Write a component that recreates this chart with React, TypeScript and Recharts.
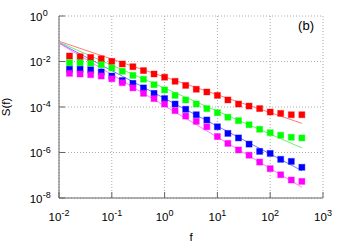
import React from 'react';
import { ScatterChart, Scatter, XAxis, YAxis, CartesianGrid } from 'recharts';

const freqs = [0.0158, 0.0251, 0.0398, 0.0631, 0.1, 0.158, 0.251, 0.398, 0.631, 1, 1.58, 2.51, 3.98, 6.31, 10, 15.8, 25.1, 39.8, 63.1, 100, 158, 251, 398];

const redS = [1.74e-2, 1.62e-2, 1.51e-2, 1.32e-2, 1.02e-2, 7.76e-3, 5.89e-3, 3.98e-3, 2.82e-3, 2.04e-3, 1.35e-3, 8.91e-4, 6.03e-4, 4.57e-4, 3.24e-4, 2.04e-4, 1.35e-4, 1.1e-4, 8.51e-5, 6.03e-5, 5.25e-5, 4.57e-5, 4.57e-5];
const greenS = [8.91e-3, 8.91e-3, 8.32e-3, 7.24e-3, 5.13e-3, 3.72e-3, 2.45e-3, 1.66e-3, 9.55e-4, 5.62e-4, 3.24e-4, 2.04e-4, 1.35e-4, 8.51e-5, 5.62e-5, 3.55e-5, 2.51e-5, 1.66e-5, 1.05e-5, 7.41e-6, 5.75e-6, 4.68e-6, 4.37e-6];
const blueS = [4.57e-3, 4.57e-3, 4.27e-3, 3.47e-3, 2.29e-3, 1.45e-3, 1.1e-3, 6.92e-4, 3.98e-4, 2.34e-4, 1.35e-4, 7.94e-5, 4.57e-5, 2.69e-5, 1.35e-5, 6.92e-6, 4.37e-6, 2.34e-6, 1.12e-6, 9.12e-7, 5.01e-7, 4.07e-7, 2.24e-7];
const magentaS = [3.02e-3, 2.82e-3, 2.63e-3, 2.29e-3, 1.74e-3, 1.17e-3, 6.92e-4, 3.98e-4, 2.34e-4, 1.35e-4, 6.92e-5, 3.98e-5, 2.34e-5, 1.35e-5, 5.01e-6, 2.51e-6, 1.29e-6, 7.59e-7, 3.8e-7, 1.95e-7, 1.05e-7, 6.17e-8, 5.37e-8];

const fitF = [0.01, 400];
const redFit = [7.76e-2, 1.91e-5];
const greenFit = [7.08e-2, 1.58e-6];
const blueFit = [6.61e-2, 1.58e-7];
const magentaFit = [6.31e-2, 2.95e-8];

const xTicks = [0.01, 0.1, 1, 10, 100, 1000];
const yTicks = [1e-8, 1e-6, 1e-4, 1e-2, 1];

const toPts = (xs: number[], ys: number[]) => xs.map((f, i) => ({ f, s: ys[i] }));

const FONT = '"Liberation Sans", Arial, sans-serif';
const AXIS = '#666';

const exp = (v: number) => String(Math.round(Math.log10(v)));

const BottomTick = (p: any) => {
  const { x, y, payload } = p;
  return (
    <g>
      <line x1={x} y1={y} x2={x} y2={y - 6} stroke={AXIS} strokeWidth={1} />
      <text x={x} y={y + 23} textAnchor="middle" fontFamily={FONT} fontSize={11.5} fill="#000">
        <tspan>10</tspan>
        <tspan dy={-5} fontSize={9}>{exp(payload.value)}</tspan>
      </text>
    </g>
  );
};

const TopTick = (p: any) => {
  const { x, y } = p;
  return <line x1={x} y1={y} x2={x} y2={y + 6} stroke={AXIS} strokeWidth={1} />;
};

const LeftTick = (p: any) => {
  const { x, y, payload } = p;
  return (
    <g>
      <line x1={x} y1={y} x2={x + 6} y2={y} stroke={AXIS} strokeWidth={1} />
      <text x={x - 16.5} y={y + 4.7} textAnchor="end" fontFamily={FONT} fontSize={11.5} fill="#000">10</text>
      <text x={x - 16.3} y={y + 0.2} textAnchor="start" fontFamily={FONT} fontSize={9} fill="#000">{exp(payload.value)}</text>
    </g>
  );
};

const RightTick = (p: any) => {
  const { x, y } = p;
  return <line x1={x} y1={y} x2={x - 6} y2={y} stroke={AXIS} strokeWidth={1} />;
};

const square = (color: string) => (p: any) => (
  <rect x={p.cx - 3} y={p.cy - 3} width={6} height={6} fill={color} stroke={color} strokeOpacity={0.4} strokeWidth={1} />
);
const none = () => <g />;

export default function App() {
  return (
    <div style={{ position: 'absolute', left: 0, top: 0, width: 346, height: 247 }}>
      <ScatterChart width={346} height={247} margin={{ top: 16, right: 23, bottom: 19, left: 0 }}>
        <CartesianGrid xAxisId="b" yAxisId="l" stroke="#aaa" strokeDasharray="1 2" />
        <XAxis xAxisId="b" dataKey="f" type="number" scale="log" domain={[0.01, 1000]} ticks={xTicks} allowDataOverflow interval={0}
          height={30} tickSize={0} tickMargin={0} tickLine={false} axisLine={{ stroke: AXIS }} tick={BottomTick} />
        <XAxis xAxisId="t" orientation="top" dataKey="f" type="number" scale="log" domain={[0.01, 1000]} ticks={xTicks} allowDataOverflow interval={0}
          height={0} tickSize={0} tickMargin={0} tickLine={false} axisLine={{ stroke: AXIS }} tick={TopTick} />
        <YAxis yAxisId="l" dataKey="s" type="number" scale="log" domain={[1e-8, 1]} ticks={yTicks} allowDataOverflow interval={0}
          width={59} tickSize={0} tickMargin={0} tickLine={false} axisLine={{ stroke: AXIS }} tick={LeftTick} />
        <YAxis yAxisId="r" orientation="right" dataKey="s" type="number" scale="log" domain={[1e-8, 1]} ticks={yTicks} allowDataOverflow interval={0}
          width={0} tickSize={0} tickMargin={0} tickLine={false} axisLine={{ stroke: AXIS }} tick={RightTick} />

        <Scatter xAxisId="b" yAxisId="l" data={toPts(fitF, redFit)} line={{ stroke: '#ff7a7a', strokeWidth: 1 }} shape={none} isAnimationActive={false} />
        <Scatter xAxisId="b" yAxisId="l" data={toPts(fitF, greenFit)} line={{ stroke: '#6ef06e', strokeWidth: 1 }} shape={none} isAnimationActive={false} />
        <Scatter xAxisId="b" yAxisId="l" data={toPts(fitF, blueFit)} line={{ stroke: '#7a7aff', strokeWidth: 1 }} shape={none} isAnimationActive={false} />
        <Scatter xAxisId="b" yAxisId="l" data={toPts(fitF, magentaFit)} line={{ stroke: '#ff7aff', strokeWidth: 1 }} shape={none} isAnimationActive={false} />

        <Scatter xAxisId="b" yAxisId="l" data={toPts(freqs, redS)} fill="#ff0000" shape={square('#ff0000')} isAnimationActive={false} />
        <Scatter xAxisId="b" yAxisId="l" data={toPts(freqs, greenS)} fill="#00ff00" shape={square('#00ff00')} isAnimationActive={false} />
        <Scatter xAxisId="b" yAxisId="l" data={toPts(freqs, blueS)} fill="#0000ff" shape={square('#0000ff')} isAnimationActive={false} />
        <Scatter xAxisId="b" yAxisId="l" data={toPts(freqs, magentaS)} fill="#ff00ff" shape={square('#ff00ff')} isAnimationActive={false} />
      </ScatterChart>
      <svg width={346} height={247} style={{ position: 'absolute', left: 0, top: 0, pointerEvents: 'none' }}>
        <text x={9.5} y={107} transform="rotate(-90 9.5 107)" textAnchor="middle" fontFamily={FONT} fontSize={11.5} fill="#000">S(f)</text>
        <text x={191} y={241} textAnchor="middle" fontFamily={FONT} fontSize={11.5} fill="#000">f</text>
        <text x={314} y={30} textAnchor="end" fontFamily={FONT} fontSize={13} fill="#000">(b)</text>
      </svg>
    </div>
  );
}
